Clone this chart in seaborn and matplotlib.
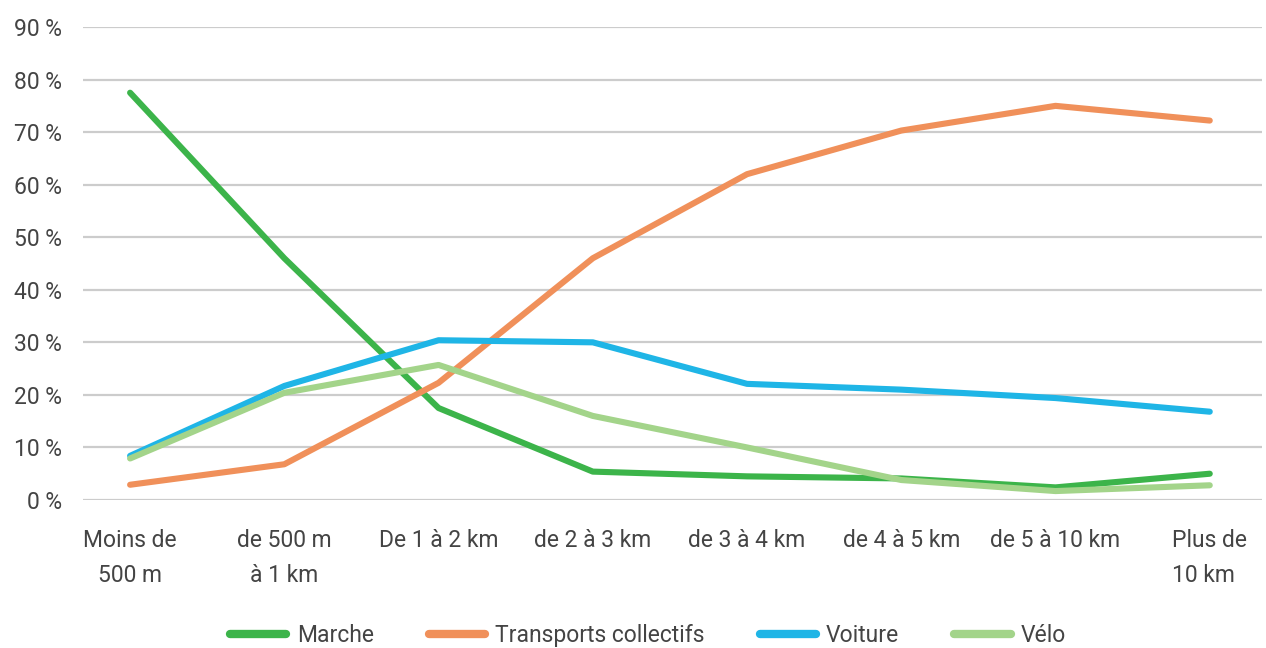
import pandas as pd
import matplotlib.pyplot as plt
import seaborn as sns

# Parts modales selon la distance parcourue
distances = ["Moins de\n500 m", "de 500 m\nà 1 km", "De 1 à 2 km", "de 2 à 3 km",
             "de 3 à 4 km", "de 4 à 5 km", "de 5 à 10 km", "Plus de\n10 km"]
marche = [77.5, 46.0, 17.5, 5.4, 4.5, 4.1, 2.4, 5.0]
transports = [2.9, 6.8, 22.3, 46.0, 62.0, 70.3, 75.0, 72.2]
voiture = [8.4, 21.7, 30.4, 30.0, 22.1, 21.0, 19.4, 16.8]
velo = [7.9, 20.4, 25.7, 16.0, 10.0, 3.8, 1.7, 2.8]

modes = ["Marche", "Transports collectifs", "Voiture", "Vélo"]
colors = ["#3cb44a", "#f0905a", "#1fb5e6", "#a3d48a"]

df = pd.DataFrame({
    "distance": distances * 4,
    "part": marche + transports + voiture + velo,
    "mode": [m for m in modes for _ in distances],
})

sns.set_style("white")
plt.rcParams["font.family"] = ["Roboto", "DejaVu Sans"]
text_color = "#444444"
fs = 16.5

fig = plt.figure(figsize=(12.66, 6.48), dpi=100)
ax = fig.add_axes([0.0656, 0.2284, 0.9314, 0.7299])

sns.lineplot(data=df, x="distance", y="part", hue="mode", hue_order=modes,
             palette=colors, sort=False, linewidth=4.4, ax=ax,
             solid_capstyle="round", solid_joinstyle="round")
for line in ax.lines:
    line.set_clip_on(False)

ax.set_ylim(0, 90)
ax.set_xlim(-0.305, 7.34)
ax.set_yticks(range(0, 100, 10))
ax.set_yticklabels([f"{v} %" for v in range(0, 100, 10)])
ax.grid(axis="y", color="#cccccc", linewidth=1.6)
ax.set_axisbelow(True)
for s in ax.spines.values():
    s.set_visible(False)
ax.set_xlabel("")
ax.set_ylabel("")
ax.tick_params(axis="y", length=0, pad=15, labelsize=fs, labelcolor=text_color)
ax.tick_params(axis="x", length=0, pad=21, labelsize=fs, labelcolor=text_color)
for lab in ax.get_xticklabels():
    lab.set_linespacing(1.65)
ax.get_xticklabels()[-1].set_multialignment("left")

ax.legend(loc="center", ncol=4, frameon=False, fontsize=fs, handlelength=2.45,
          handletextpad=0.45, columnspacing=2.4, labelcolor=text_color)
leg = ax.get_legend()
leg.set_bbox_to_anchor((0.512, 0.02), transform=fig.transFigure)
for h in leg.legend_handles:
    h.set_linewidth(6)

fig.savefig("out.png", dpi=100)
